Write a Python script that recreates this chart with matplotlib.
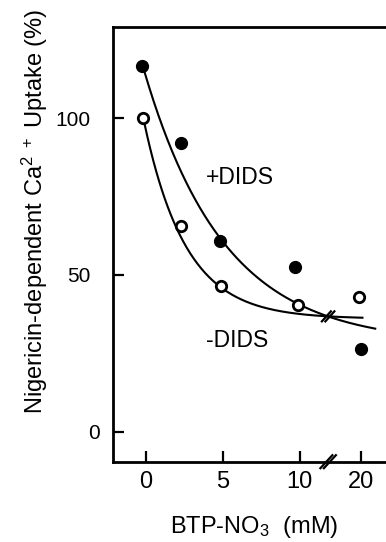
import numpy as np
import matplotlib
matplotlib.use("Agg")
import matplotlib.pyplot as plt
from matplotlib.lines import Line2D
from matplotlib.transforms import ScaledTranslation

plt.rcParams['font.family'] = ['Liberation Sans', 'DejaVu Sans']
plt.rcParams['mathtext.default'] = 'regular'

# ---- data ----
x_plus = [-0.28, 2.27, 4.81, 9.69, 20.0]      # BTP-NO3 (mM), +DIDS (filled)
y_plus = [116.7, 92.2, 60.9, 52.5, 26.3]
x_minus = [-0.21, 2.25, 4.87, 9.89, 19.6]     # -DIDS (open)
y_minus = [100.0, 65.7, 46.5, 40.4, 42.9]

# fitted decay curves (plateau, amplitude, constant, start, end) in axis-position units
fit_plus = dict(c=28.0, A=86.9, t=5.2, x0=-0.1, x1=14.9)
fit_minus = dict(c=36.0, A=62.4, t=2.72, x0=-0.1, x1=14.07)

xticks = [0, 5, 10, 20]
yticks = [0, 50, 100]
break_at = 11.84  # axis position of the // break


def fwd(x):
    x = np.asarray(x, dtype=float)
    return np.where(x <= 10, x, 10 + (x - 10) * 0.4)


def inv(p):
    p = np.asarray(p, dtype=float)
    return np.where(p <= 10, p, 10 + (p - 10) / 0.4)


W, H = 386, 542
fig = plt.figure(figsize=(W / 100, H / 100), dpi=100)
left, right, top, bottom = 113, 386, 27, 461.7
ax = fig.add_axes([left / W, 1 - bottom / H, (right - left) / W, (bottom - top) / H])
ax.set_xscale('function', functions=(fwd, inv))
ax.set_xlim(-2.14, float(inv(15.6)))
ax.set_ylim(-9.6, 129.1)

for s in ['left', 'bottom', 'top']:
    ax.spines[s].set_linewidth(2.0)
ax.spines['right'].set_visible(False)

ax.set_xticks(xticks)
ax.set_xticklabels([str(v) for v in xticks])
ax.set_yticks(yticks)
ax.tick_params(axis='both', direction='in', length=8, width=1.6)
ax.tick_params(axis='x', pad=7, labelsize=17)
ax.tick_params(axis='y', pad=16, labelsize=15)
ax.tick_params(top=False, right=False)

# the "0" label on the y axis sits closer to the axis in the original
t0 = ax.yaxis.get_major_ticks()[0].label1
t0.set_transform(t0.get_transform() + ScaledTranslation(9 / 100, 0, fig.dpi_scale_trans))

# curves
for f in (fit_plus, fit_minus):
    p = np.linspace(f['x0'], f['x1'], 300)
    ax.plot(inv(p), f['c'] + f['A'] * np.exp(-(p - f['x0']) / f['t']),
            color='black', lw=1.5, clip_on=False)

ax.plot(x_plus, y_plus, 'o', color='black', ms=8.5, clip_on=False, zorder=5)
ax.plot(x_minus, y_minus, 'o', mfc='white', mec='black', mew=2.0, ms=7.5,
        clip_on=False, zorder=5)

ax.text(3.9, 81, '+DIDS', fontsize=16.5, ha='left', va='center')
ax.text(3.9, 29, '-DIDS', fontsize=16.5, ha='left', va='center')

# break marks
fig.canvas.draw()


def draw_break(xd, yd, dx=6, dy=6.5, gap=3.5, lw=1.6):
    cx, cy = ax.transData.transform((xd, yd))
    for off in (-gap / 2, gap / 2):
        fig.add_artist(Line2D([(cx + off - dx) / W, (cx + off + dx) / W],
                              [(cy - dy) / H, (cy + dy) / H],
                              color='black', lw=lw, transform=fig.transFigure))


bx = float(inv(break_at))
draw_break(bx, -9.6)
yb = fit_minus['c'] + fit_minus['A'] * np.exp(-(break_at - fit_minus['x0']) / fit_minus['t'])
draw_break(bx, yb, dx=4.5, dy=5)

fig.text(254.5 / W, 1 - 533.3 / H, 'BTP-NO$_3$  (mM)', fontsize=17,
         ha='center', va='baseline')
fig.text(34.7 / W, 0.609, 'Nigericin-dependent Ca${}^{2\\ +}$ Uptake (%)',
         fontsize=17, rotation=90, ha='center', va='center')

fig.savefig('out.png', dpi=100)
